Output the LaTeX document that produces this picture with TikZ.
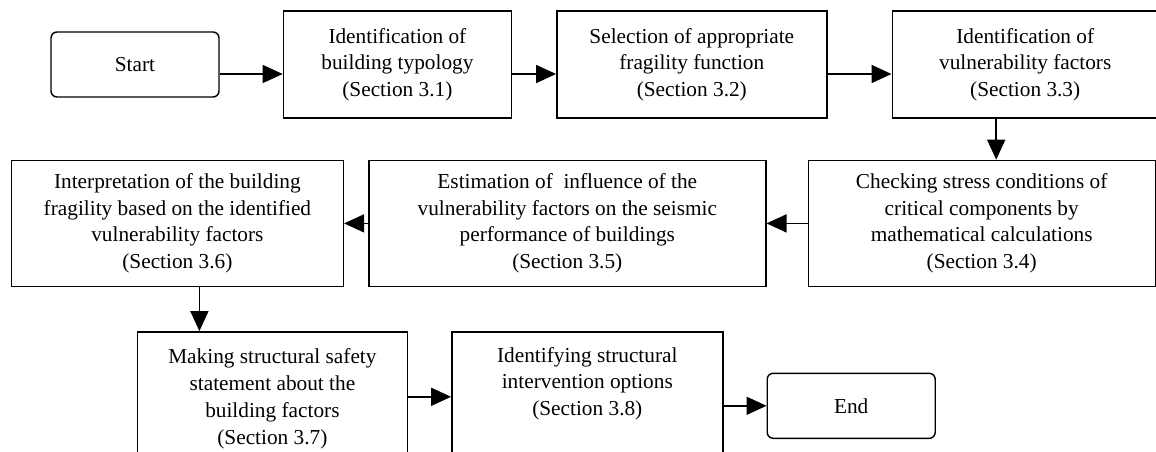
\documentclass[tikz,border=0pt]{standalone}
\usepackage{fontspec}
\setmainfont{Liberation Serif}
\usetikzlibrary{positioning,arrows.meta}

\begin{document}
\begin{tikzpicture}
\tikzstyle{main}=[rectangle, draw=black, line width=1.4pt, align=center, inner sep=0pt, font=\fontsize{21.3}{26.7}\selectfont]
\tikzstyle{term}=[main, rounded corners=6pt, minimum width=168pt, minimum height=65pt]
\tikzstyle{connect}=[-{Triangle[length=20pt,width=18pt]}, line width=1.6pt]
\useasboundingbox (0,0) rectangle (1156pt,-452pt);
\clip (0,0) rectangle (1156pt,-452pt);
  % first row
  \node[term] (start) at (135pt,-64.5pt) {Start};
  \node[main, minimum width=228pt, minimum height=107pt] (b1) [right=63pt of start] {Identification of\\building typology\\(Section 3.1)};
  \node[main, minimum width=270pt, minimum height=107pt] (b2) [right=44pt of b1] {Selection of appropriate\\fragility function\\(Section 3.2)};
  \node[main, minimum width=266pt, minimum height=107pt] (b3) [right=64pt of b2] {Identification of\\vulnerability factors\\(Section 3.3)};
  % second row
  \node[main, minimum width=347pt, minimum height=126pt] (b4) [below=41pt of b3, xshift=-43.5pt] {Checking stress conditions of\\critical components by\\mathematical calculations\\(Section 3.4)};
  \node[main, minimum width=397pt, minimum height=126pt] (b5) [left=41pt of b4] {Estimation of~ influence of the\\vulnerability factors on the seismic\\performance of buildings\\(Section 3.5)};
  \node[main, minimum width=332pt, minimum height=126pt] (b6) [left=24pt of b5] {Interpretation of the building\\fragility based on the identified\\vulnerability factors\\(Section 3.6)};
  % third row
  \node[main, minimum width=270pt, minimum height=134pt] (b7) [below=44pt of b6, xshift=95pt] {Making structural safety\\statement about the\\building factors\\(Section 3.7)};
  \node[main, minimum width=271pt, minimum height=134pt] (b8) [right=43pt of b7] {Identifying structural\\intervention options\\(Section 3.8)\\ \strut};
  \node[term] (end) [right=43pt of b8, yshift=-7pt] {End};
  \coordinate (a1) at ([yshift=-9.5pt]start.east);
  \coordinate (a2) at ([yshift=-9.5pt]b1.east);
  \coordinate (a3) at ([yshift=-9.5pt]b2.east);
  \coordinate (a4) at ([xshift=-29pt]b3.south);
  \coordinate (a6) at ([xshift=22pt]b6.south);
  \coordinate (a7) at ([yshift=2pt]b7.east);
  \coordinate (a8) at (b8.east |- end.west);
  \path (a1) edge [connect] (a1 -| b1.west)
        (a2) edge [connect] (a2 -| b2.west)
        (a3) edge [connect] (a3 -| b3.west)
        (a4) edge [connect] (a4 |- b4.north)
        (b4.west) edge [connect] (b5.east)
        (b5.west) edge [connect] (b6.east)
        (a6) edge [connect] (a6 |- b7.north)
        (a7) edge [connect] (a7 -| b8.west)
        (a8) edge [connect] (end.west);
\end{tikzpicture}
\end{document}
